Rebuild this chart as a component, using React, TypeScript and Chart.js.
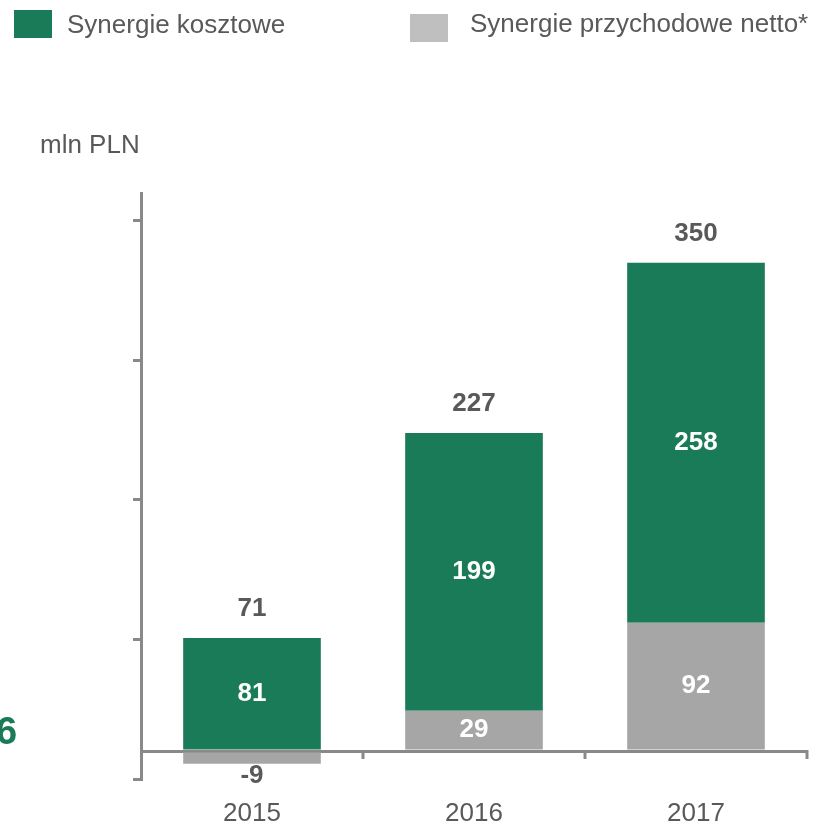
import React, { useEffect, useRef } from "react";
import { Chart, registerables } from "chart.js";

Chart.register(...registerables);

const categories = ["2015", "2016", "2017"];
const costSynergies = [81, 199, 258];
const revenueSynergies = [-9, 29, 92];
const totals = [71, 227, 350];
const yTickValues = [-20, 0, 80, 180, 280, 380];

const FONT = "'Liberation Sans', Arial, sans-serif";
const GREEN = "#1a7b58";
const GRAY = "#a6a6a6";
const LEGEND_GRAY = "#bfbfbf";
const AXIS = "#898989";
const TEXT = "#595959";

const labelsPlugin = {
  id: "valueLabels",
  afterDatasetsDraw(chart: any) {
    const ctx = chart.ctx;
    ctx.save();
    ctx.font = `bold 26px ${FONT}`;
    ctx.textAlign = "center";
    ctx.textBaseline = "middle";
    const grayMeta = chart.getDatasetMeta(0);
    const greenMeta = chart.getDatasetMeta(1);
    grayMeta.data.forEach((el: any, i: number) => {
      const p = el.getProps(["x", "y", "base"], true);
      const v = revenueSynergies[i];
      if (v < 0) {
        ctx.fillStyle = TEXT;
        ctx.fillText(String(v), p.x, p.y + 12);
      } else {
        ctx.fillStyle = "#ffffff";
        ctx.fillText(String(v), p.x, (p.y + p.base) / 2);
      }
    });
    greenMeta.data.forEach((el: any, i: number) => {
      const p = el.getProps(["x", "y", "base"], true);
      ctx.fillStyle = "#ffffff";
      ctx.fillText(String(costSynergies[i]), p.x, (p.y + p.base) / 2);
      ctx.fillStyle = TEXT;
      ctx.fillText(String(totals[i]), p.x, p.y - 29);
    });
    // x-axis tick marks at category boundaries along zero line
    const xs = chart.scales.x;
    const ys = chart.scales.y;
    const zero = ys.getPixelForValue(0);
    ctx.strokeStyle = AXIS;
    ctx.lineWidth = 3;
    ctx.beginPath();
    for (let i = 0; i < categories.length; i++) {
      const bx = xs.getPixelForValue(i + 0.5);
      ctx.moveTo(bx, zero - 1);
      ctx.lineTo(bx, zero + 8);
    }
    ctx.stroke();
    ctx.restore();
  },
};

export default function App() {
  const ref = useRef<HTMLCanvasElement | null>(null);
  useEffect(() => {
    if (!ref.current) return;
    const chart = new Chart(ref.current, {
      type: "bar",
      data: {
        labels: categories,
        datasets: [
          {
            label: "Synergie przychodowe netto*",
            data: revenueSynergies,
            backgroundColor: GRAY,
            borderWidth: 0,
          },
          {
            label: "Synergie kosztowe",
            data: costSynergies,
            backgroundColor: GREEN,
            borderWidth: 0,
          },
        ],
      },
      options: {
        animation: false,
        responsive: true,
        maintainAspectRatio: false,
        layout: { padding: { left: 133, top: 193, right: 8, bottom: -26 } },
        datasets: { bar: { barPercentage: 0.62, categoryPercentage: 1 } },
        plugins: {
          legend: { display: false },
          tooltip: { enabled: false },
        },
        scales: {
          x: {
            stacked: true,
            offset: true,
            grid: { display: false, drawTicks: false, tickLength: 0 },
            border: { display: false },
            ticks: {
              color: TEXT,
              font: { family: FONT, size: 26, lineHeight: 1 },
              padding: 22,
            },
          },
          y: {
            stacked: true,
            min: -20,
            max: 400,
            afterBuildTicks: (s: any) => {
              s.ticks = yTickValues.map((v) => ({ value: v }));
            },
            ticks: { display: false },
            grid: {
              drawOnChartArea: true,
              drawTicks: true,
              tickLength: 8,
              lineWidth: 3,
              tickWidth: 3,
              color: (c: any) => (c.tick && c.tick.value === 0 ? AXIS : "transparent"),
              tickColor: (c: any) => (c.tick && c.tick.value === 0 ? "transparent" : AXIS),
            },
            border: { display: true, color: AXIS, width: 3 },
          },
        },
      },
      plugins: [labelsPlugin],
    });
    return () => chart.destroy();
  }, []);

  const textStyle: React.CSSProperties = {
    position: "absolute",
    fontFamily: FONT,
    fontSize: 26,
    lineHeight: "26px",
    color: TEXT,
    whiteSpace: "nowrap",
  };

  return (
    <div style={{ position: "absolute", left: 0, top: 0, width: 815, height: 823, overflow: "hidden", background: "#fff" }}>
      <canvas ref={ref} style={{ position: "absolute", left: 0, top: 0 }} />
      <div style={{ position: "absolute", left: 14, top: 10, width: 38, height: 28, background: GREEN }} />
      <div style={{ ...textStyle, left: 67, top: 11 }}>Synergie kosztowe</div>
      <div style={{ position: "absolute", left: 410, top: 14, width: 38, height: 28, background: LEGEND_GRAY }} />
      <div style={{ ...textStyle, left: 470, top: 10 }}>Synergie przychodowe netto*</div>
      <div style={{ ...textStyle, left: 40, top: 131 }}>mln PLN</div>
      <div style={{ ...textStyle, left: -4, top: 712, fontSize: 38, lineHeight: "38px", fontWeight: "bold", color: GREEN }}>6</div>
    </div>
  );
}
